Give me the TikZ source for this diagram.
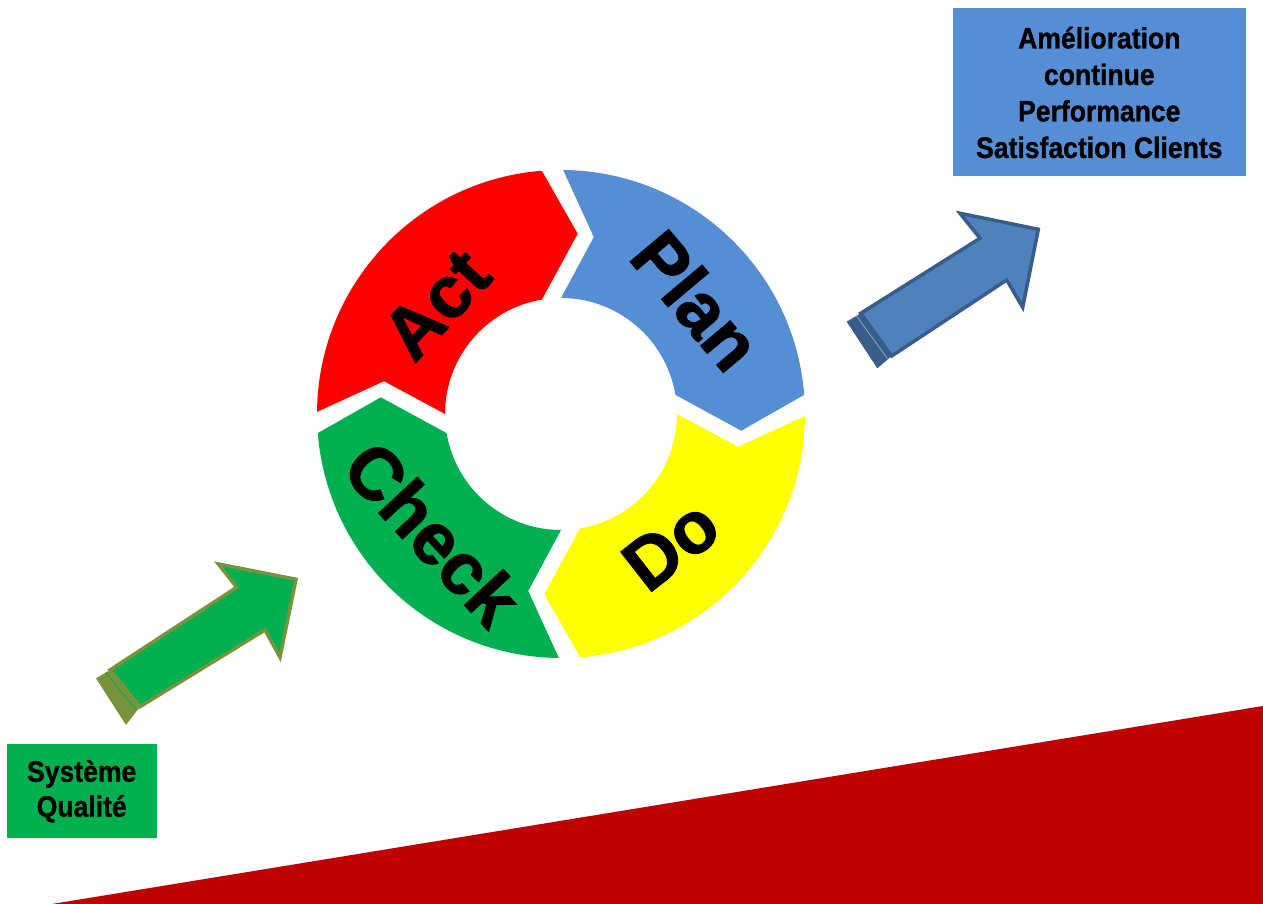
\documentclass[tikz,border=0pt]{standalone}
\usepackage{fontspec}
\setmainfont{Liberation Sans}
\newfontfamily\narrowfont[FakeStretch=0.9, BoldFeatures={FakeBold=1}]{Liberation Sans}
\newfontfamily\ringfont[BoldFeatures={FakeBold=1.5}]{Liberation Sans}
\definecolor{actred}{HTML}{FF0000}
\definecolor{planblue}{HTML}{558ED5}
\definecolor{doyellow}{HTML}{FFFF00}
\definecolor{checkgreen}{HTML}{00B050}
\definecolor{bandred}{HTML}{C00000}
\definecolor{arrblue}{HTML}{4F81BD}
\definecolor{arrblueline}{HTML}{385D8A}
\definecolor{arrgreenline}{HTML}{77933C}
\newcommand\pdcaseg[2]{%
  \fill[#2] ({#1-0.5}:244) arc[start angle={#1-0.5}, end angle={#1-85.5}, radius=244pt]
    -- ({#1-95.3}:181) -- ({#1-80.5}:116)
    arc[start angle={#1-80.5}, end angle={#1}, radius=116pt]
    -- ({#1-10.5}:180) -- cycle;}
\tikzset{
  seglabel/.style={inner sep=0pt, font=\ringfont\fontsize{73}{73}\selectfont\bfseries},
  txtbox/.style={inner sep=0pt, align=center, text=black,
    font=\narrowfont\fontsize{29.5}{36.5}\selectfont\bfseries},
  blockarrow/.style={line width=3.5pt, line join=miter}
}
\begin{document}
\begin{tikzpicture}[x=1pt,y=1pt]
\useasboundingbox (0,0) rectangle (1263,904);
% red band
\fill[bandred] (52,0) -- (1263,198) -- (1263,0) -- cycle;
% PDCA ring
\begin{scope}[shift={(561,490)}]
  \pdcaseg{180}{actred}
  \pdcaseg{90}{planblue}
  \pdcaseg{0}{doyellow}
  \pdcaseg{270}{checkgreen}
  \node[seglabel, rotate=47]  (act)   at (138.7:166) {Act};
  \node[seglabel, rotate=-50] (plan)  at (40:177)    {Plan};
  \node[seglabel, rotate=38]  (do)    at (-50:171)   {Do};
  \node[seglabel, rotate=-47] (check) at (223:175)   {Check};
\end{scope}
% blue arrow
\fill[arrblueline] (846.7,582.3) -- (860.7,590.7) -- (891.7,548) -- (877.3,535.7) -- cycle;
\filldraw[blockarrow, fill=arrblue, draw=arrblueline]
  (860.7,590.7) -- (980,665.7) -- (960,690.7) -- (1038.3,674.7)
  -- (1022.7,596.7) -- (1006.7,624) -- (891.7,548) -- cycle;
\draw[arrblue!70!white, line width=0.8pt] (856.4,588.1) -- (887.4,545.4);
% green arrow
\fill[arrgreenline] (96,225.7) -- (110,234) -- (140,197.3) -- (126,179) -- cycle;
\filldraw[blockarrow, fill=checkgreen, draw=arrgreenline]
  (110,234) -- (236.7,316.7) -- (218.3,340) -- (296,324.7)
  -- (280,246.7) -- (265,274) -- (140,197.3) -- cycle;
\draw[checkgreen, line width=0.8pt] (105.7,231.4) -- (135.7,194.7);
% boxes
\node[txtbox, fill=planblue, minimum width=293pt, minimum height=168pt] (goal)
  at (1099.3,811.5) {Amélioration\\continue\\Performance\\Satisfaction Clients};
\node[txtbox, fill=checkgreen, minimum width=150pt, minimum height=94pt,
  font=\narrowfont\fontsize{29.5}{35}\selectfont\bfseries] (sys)
  at (81.7,112.7) {Système\\Qualité};
\end{tikzpicture}
\end{document}
